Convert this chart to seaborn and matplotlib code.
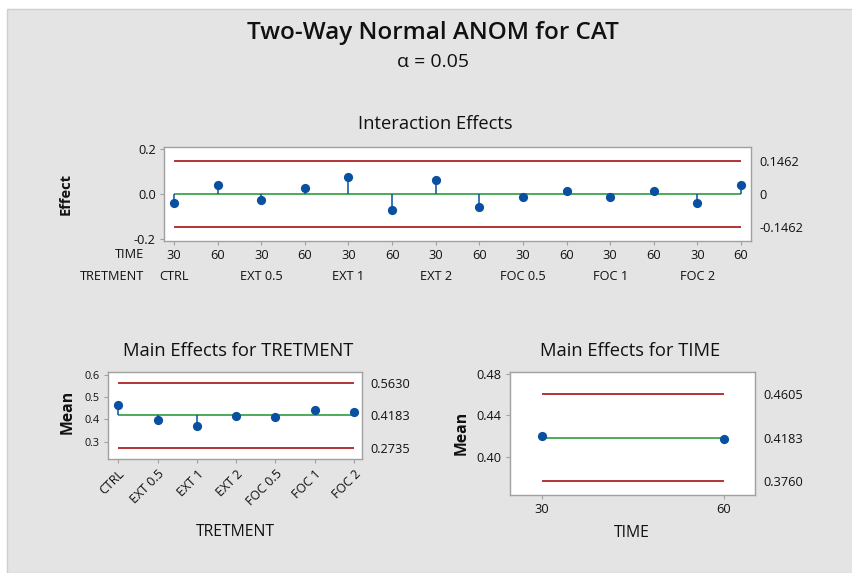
import matplotlib
matplotlib.use("Agg")
import matplotlib.pyplot as plt
import matplotlib.transforms as mtransforms
from matplotlib.patches import Rectangle
import seaborn as sns
import pandas as pd
import numpy as np

# ---------------- data ----------------
treatments = ["CTRL", "EXT 0.5", "EXT 1", "EXT 2", "FOC 0.5", "FOC 1", "FOC 2"]
times = ["30", "60"]
interaction_effects = [-0.039, 0.041, -0.025, 0.028, 0.075, -0.073, 0.061,
                       -0.059, -0.012, 0.013, -0.012, 0.013, -0.039, 0.041]
inter_limits = [-0.1462, 0.0, 0.1462]
inter_limit_labels = ["-0.1462", "0", "0.1462"]

treat_means = [0.466, 0.396, 0.370, 0.417, 0.410, 0.444, 0.432]
treat_limits = [0.2735, 0.4183, 0.5630]
treat_limit_labels = ["0.2735", "0.4183", "0.5630"]

time_means = [0.4200, 0.4167]
time_limits = [0.3760, 0.4183, 0.4605]
time_limit_labels = ["0.3760", "0.4183", "0.4605"]

# ---------------- style ----------------
sns.set_theme(style="white")
plt.rcParams["font.family"] = ["Open Sans", "DejaVu Sans"]

RED = "#b43232"
GREEN = "#4caa5a"
BLUE = "#0a50a0"
SPINE = "#a0a0a0"
BG = "#e4e4e4"
TXT = "#111111"

TICK_FS = 9.2
SUB_FS = 13.2
LAB_FS = 11.3

W, H = 853, 573
fig = plt.figure(figsize=(W / 100, H / 100), dpi=100)
fig.patch.set_facecolor("white")
fig.patches.append(Rectangle((7 / W, 0), 1 - 7 / W, 1 - 9 / H, transform=fig.transFigure,
                             facecolor=BG, edgecolor="#cfcfcf", linewidth=1, zorder=-10))


def px(x, y):
    return x / W, 1 - y / H


def add_axes(l, t, r, b):
    return fig.add_axes([l / W, 1 - b / H, (r - l) / W, (b - t) / H])


def style_ax(ax):
    ax.set_facecolor("white")
    for s in ax.spines.values():
        s.set_color(SPINE)
        s.set_linewidth(1.0)
    ax.tick_params(axis="both", which="both", length=3, width=0.8, color=SPINE,
                   labelsize=TICK_FS, labelcolor=TXT, pad=3)
    ax.tick_params(axis="y", left=True)
    ax.tick_params(axis="x", bottom=True)


def right_labels(ax, vals, labels):
    ax2 = ax.twinx()
    ax2.set_ylim(ax.get_ylim())
    ax2.set_yticks(vals)
    ax2.set_yticklabels(labels)
    ax2.tick_params(axis="y", length=0, pad=6, labelsize=TICK_FS, labelcolor=TXT)
    for s in ax2.spines.values():
        s.set_visible(False)
    ax2.grid(False)
    return ax2


def anom_panel(ax, xs, ys, limits):
    lo, cl, hi = limits
    x0, x1 = xs[0], xs[-1]
    ax.hlines([lo, hi], x0, x1, color=RED, linewidth=1.4, zorder=2)
    ax.hlines(cl, x0, x1, color=GREEN, linewidth=1.4, zorder=2)
    ax.vlines(xs, cl, ys, color=BLUE, linewidth=1.1, zorder=3)
    df = pd.DataFrame({"x": xs, "y": ys})
    sns.scatterplot(data=df, x="x", y="y", ax=ax, color=BLUE, s=44, edgecolor=BLUE,
                    linewidth=0, zorder=4)
    ax.set_xlabel("")
    ax.set_ylabel("")


# ---------------- titles ----------------
fig.text(*px(433, 33), "Two-Way Normal ANOM for CAT", ha="center", va="center",
         fontsize=17.5, fontweight="semibold", color=TXT)
fig.text(*px(433, 62), "α = 0.05", ha="center", va="center", fontsize=14, color=TXT)

# ---------------- interaction panel ----------------
ax1 = add_axes(164, 147, 751, 241)
style_ax(ax1)
n = len(interaction_effects)
xs1 = np.arange(n)
anom_panel(ax1, xs1, interaction_effects, inter_limits)
ax1.set_xlim(-0.23, n - 1 + 0.23)
ax1.set_ylim(-0.209, 0.209)
ax1.set_yticks([-0.2, 0.0, 0.2])
ax1.set_yticklabels(["-0.2", "0.0", "0.2"])
ax1.set_xticks(xs1)
ax1.set_xticklabels([times[i % 2] for i in range(n)])
right_labels(ax1, inter_limits, inter_limit_labels)
trans = mtransforms.blended_transform_factory(ax1.transData, fig.transFigure)
for i, t in enumerate(treatments):
    ax1.text(2 * i, 1 - 276 / H, t, transform=trans, ha="center", va="center",
             fontsize=TICK_FS, color=TXT)
fig.text(*px(144, 255), "TIME", ha="right", va="center", fontsize=TICK_FS, color=TXT)
fig.text(*px(144, 276), "TRETMENT", ha="right", va="center", fontsize=TICK_FS, color=TXT)
fig.text(*px(435, 124), "Interaction Effects", ha="center", va="center",
         fontsize=SUB_FS, color=TXT)
fig.text(*px(66, 194), "Effect", ha="center", va="center", rotation=90,
         fontsize=10.5, fontweight="bold", color=TXT)

# ---------------- treatment main effects ----------------
ax2 = add_axes(108, 372, 362, 459)
style_ax(ax2)
xs2 = np.arange(len(treatments))
anom_panel(ax2, xs2, treat_means, treat_limits)
ax2.set_xlim(-0.26, len(treatments) - 1 + 0.2)
ax2.set_ylim(0.222, 0.6135)
ax2.set_yticks([0.3, 0.4, 0.5, 0.6])
ax2.set_yticklabels(["0.3", "0.4", "0.5", "0.6"])
ax2.tick_params(axis="y", labelsize=7.8)
ax2.set_xticks(xs2)
ax2.set_xticklabels(treatments, rotation=45, ha="right", rotation_mode="anchor")
ax2.tick_params(axis="x", labelsize=9)
right_labels(ax2, treat_limits, treat_limit_labels)
fig.text(*px(238, 351), "Main Effects for TRETMENT", ha="center", va="center",
         fontsize=SUB_FS, color=TXT)
fig.text(*px(68, 412), "Mean", ha="center", va="center", rotation=90,
         fontsize=LAB_FS, fontweight="bold", color=TXT)
fig.text(*px(235, 532), "TRETMENT", ha="center", va="center", fontsize=LAB_FS, color=TXT)

# ---------------- time main effects ----------------
ax3 = add_axes(510, 372, 755, 495)
style_ax(ax3)
xs3 = np.arange(len(times))
anom_panel(ax3, xs3, time_means, time_limits)
ax3.set_xlim(-0.174, 1.17)
ax3.set_ylim(0.3628, 0.4822)
ax3.set_yticks([0.40, 0.44, 0.48])
ax3.set_yticklabels(["0.40", "0.44", "0.48"])
ax3.set_xticks(xs3)
ax3.set_xticklabels(times)
right_labels(ax3, time_limits, time_limit_labels)
fig.text(*px(630, 351), "Main Effects for TIME", ha="center", va="center",
         fontsize=SUB_FS, color=TXT)
fig.text(*px(462, 433), "Mean", ha="center", va="center", rotation=90,
         fontsize=LAB_FS, fontweight="bold", color=TXT)
fig.text(*px(632, 533), "TIME", ha="center", va="center", fontsize=LAB_FS, color=TXT)

fig.savefig("out.png", dpi=100, facecolor=fig.get_facecolor())
